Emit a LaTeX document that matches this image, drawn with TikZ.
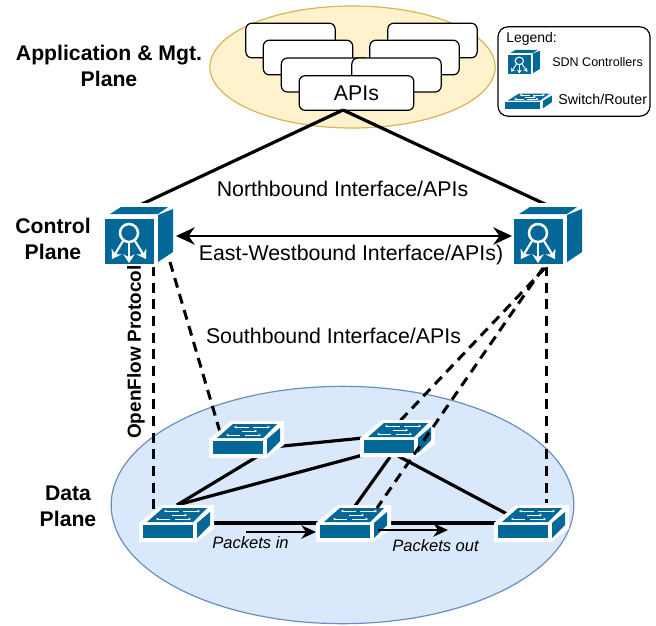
\documentclass[tikz,border=0pt]{standalone}
\usepackage{fontspec}
\setmainfont{Liberation Sans}
\usetikzlibrary{arrows.meta,shapes.geometric}
\definecolor{ciscoblue}{HTML}{036897}
\definecolor{dataplane}{HTML}{DAE8FC}
\definecolor{dataedge}{HTML}{6C8EBF}
\definecolor{appplane}{HTML}{FFF2CC}
\definecolor{appedge}{HTML}{D6B656}
\tikzset{
  x=0.75pt,y=-0.75pt,
  link/.style={draw=black,line width=2.4pt},
  dashlink/.style={draw=black,line width=2.25pt,dash pattern=on 7.5pt off 5pt},
  appbox/.style={draw=black,fill=white,line width=0.9pt,rounded corners=4.5pt},
  lbl/.style={inner sep=0pt,font=\fontsize{16}{19}\selectfont,text=black},
  planelbl/.style={inner sep=0pt,align=center,font=\fontsize{15.9}{19.5}\selectfont\bfseries},
  pktlbl/.style={inner sep=0pt,font=\fontsize{12.4}{14}\selectfont\itshape},
  flow/.style={draw=black,line width=1.3pt,-{Stealth[length=11pt,width=10pt]}},
  legendlbl/.style={inner sep=0pt,anchor=west},
  swarrow/.style={draw=white,line width=0.5pt,-{Stealth[length=2pt,width=2pt]}},
  pics/controller/.style={code={
    \fill[white] (-4,-16) -- (66,-16) -- (72,-12) -- (72,36) -- (54,48) -- (-4,48) -- cycle;
    \fill[ciscoblue] (0,0) rectangle (49,45);
    \fill[ciscoblue] (5,-5) -- (16,-12) -- (63,-12) -- (53,-5) -- cycle;
    \fill[ciscoblue] (53,-4) -- (68,-10) -- (68,33) -- (53,43) -- cycle;
    \draw[white,line width=#1*1.9pt] (24,14) circle (9);
    \foreach \ax/\ay/\bx/\by in {24/24/24/44,18/22/7/40,30/22/41/40}
      \draw[white,line width=#1*1.6pt,-{Stealth[length=#1*6.5pt,width=#1*8.5pt]}] (\ax,\ay) -- (\bx,\by);
  }},
  netswitch/.pic={
    \fill[white] (-4,17) -- (53,17) -- (71,4) -- (71,-20) -- (18,-20) -- (-4,-2) -- cycle;
    \fill[ciscoblue] (0,0) rectangle (50,13);
    \fill[ciscoblue] (4,-3) -- (20,-17) -- (64,-17) -- (50,-3) -- cycle;
    \fill[ciscoblue] (54,-2) -- (67,-13) -- (67,0) -- (54,13) -- cycle;
    \draw[swarrow] (36,-14) -- (21,-14);
    \draw[swarrow] (40,-14) -- (57,-14);
    \draw[swarrow] (29,-10) -- (44,-10);
    \draw[swarrow] (27,-6) -- (13,-6);
    \draw[swarrow] (32,-6) -- (48,-6);
  },
}
\begin{document}
\begin{tikzpicture}
\useasboundingbox (0,0) rectangle (656,625);

% planes
\node[draw=dataedge,fill=dataplane,ellipse,line width=0.9pt,inner sep=0pt,minimum width=347pt,minimum height=178pt] (dataellipse) at (342.5,505) {};
\node[draw=appedge,fill=appplane,ellipse,line width=0.9pt,inner sep=0pt,minimum width=214pt,minimum height=91.5pt] (appellipse) at (352.5,67) {};

% connector ends
\coordinate (apiBot) at (343,110);
\coordinate (cLtop) at (140,205);
\coordinate (cRtop) at (547,205);
\coordinate (cLside) at (176,236);
\coordinate (cRside) at (512,236);
\coordinate (cLbot) at (153,266);
\coordinate (cLbotB) at (170,262);
\coordinate (cRbot) at (546,266);
\coordinate (cRbotA) at (545,268);
\coordinate (cRbotB) at (543,268);
\coordinate (s1top) at (153,510);
\coordinate (s2top) at (220,432);
\coordinate (s3topA) at (398,423);
\coordinate (s4topB) at (377,508);
\coordinate (s5top) at (546,503);
\coordinate (s1link) at (177,505);
\coordinate (s2link) at (273,447);
\coordinate (s3linkA) at (363,438);
\coordinate (s3linkB) at (363,455);
\coordinate (s3linkC) at (390,457);
\coordinate (s3linkD) at (398,456);
\coordinate (s4linkA) at (355,506);
\coordinate (s5linkA) at (507,514);
\coordinate (s1right) at (210,523);
\coordinate (s4left) at (320,523);
\coordinate (s4right) at (388,523);
\coordinate (s5left) at (497,523);
\coordinate (inA) at (246,532);
\coordinate (inB) at (316,532);
\coordinate (outA) at (378,530);
\coordinate (outB) at (448,530);

% dashed links behind the devices
\draw[dashlink] (cLbot) -- (s1top);
\draw[dashlink] (cLbotB) -- (s2top);
\draw[dashlink] (cRbot) -- (s5top);
\draw[dashlink] (cRbotA) -- (s3topA);

% solid data-plane links
\draw[link] (s1link) -- (s2link) -- (s3linkA);
\draw[link] (s1link) -- (s3linkB);
\draw[link] (s3linkC) -- (s4linkA);
\draw[link] (s3linkD) -- (s5linkA);
\draw[link] (s1right) -- (s4left);
\draw[link] (s4right) -- (s5left);

% switches
\path (143,525) pic (swA) {netswitch};
\path (213,441) pic (swB) {netswitch};
\path (364,440) pic (swC) {netswitch};
\path (320,525) pic (swD) {netswitch};
\path (498,525) pic (swE) {netswitch};

\draw[dashlink] (cRbotB) -- (s4topB);

% application boxes
\node[appbox,minimum width=67pt,minimum height=26pt,inner sep=0pt] (appL1) at (290.5,40.5) {};
\node[appbox,minimum width=67pt,minimum height=26pt,inner sep=0pt] (appR1) at (432.5,40.5) {};
\node[appbox,minimum width=67pt,minimum height=26pt,inner sep=0pt] (appL2) at (308,57.5) {};
\node[appbox,minimum width=67pt,minimum height=26pt,inner sep=0pt] (appR2) at (414.5,57.5) {};
\node[appbox,minimum width=67pt,minimum height=25.5pt,inner sep=0pt] (appL3) at (326,75) {};
\node[appbox,minimum width=67pt,minimum height=25.5pt,inner sep=0pt] (appR3) at (396.5,75) {};
\node[appbox,minimum width=86pt,minimum height=26pt,inner sep=0pt,font=\fontsize{16}{19}\selectfont] (apis) at (356.5,93) {APIs};

% northbound
\draw[link] (apiBot) -- (cLtop);
\draw[link] (apiBot) -- (cRtop);

% controllers
\path (105,219) pic (ctrlL) {controller=1};
\path (514,219) pic (ctrlR) {controller=1};

% east-west
\draw[draw=black,line width=2.2pt,{Stealth[length=14pt,width=13pt]}-{Stealth[length=14pt,width=13pt]}] (cLside) -- (cRside);

% flows
\draw[flow] (inA) -- (inB);
\draw[flow] (outA) -- (outB);

% labels
\node[planelbl] (lblApp) at (109,66) {Application \& Mgt.\\Plane};
\node[planelbl] (lblCtl) at (53,239) {Control\\Plane};
\node[planelbl] (lblData) at (68,506) {Data\\Plane};
\node[lbl] (lblNorth) at (342.5,189) {Northbound Interface/APIs};
\node[lbl] (lblEast) at (351,255) {East-Westbound Interface/APIs)};
\node[lbl] (lblSouth) at (333.5,336) {Southbound Interface/APIs};
\node[inner sep=0pt,rotate=90,font=\fontsize{14.2}{16}\selectfont\bfseries] (lblOF) at (136,352) {OpenFlow Protocol};
\node[pktlbl] (lblIn) at (250.5,543) {Packets in};
\node[pktlbl] (lblOut) at (435.5,546) {Packets out};

% legend
\node[draw=black,fill=white,line width=0.9pt,rounded corners=7.5pt,minimum width=114pt,minimum height=67pt,inner sep=0pt] (legend) at (574,71.5) {};
\node[legendlbl,font=\fontsize{10.5}{12}\selectfont] (lgTitle) at (506,39) {Legend:};
\node[legendlbl,font=\fontsize{9.4}{11}\selectfont] (lgSdn) at (552,62) {SDN Controllers};
\node[legendlbl,font=\fontsize{10.7}{12}\selectfont] (lgSw) at (558,99) {Switch/Router};
\path (508,55) pic[xscale=.47,yscale=.42] (lgCtrl) {controller=.42};
\path (505,102) pic[xscale=.7,yscale=.5] (lgSwitch) {netswitch};
\end{tikzpicture}
\end{document}
